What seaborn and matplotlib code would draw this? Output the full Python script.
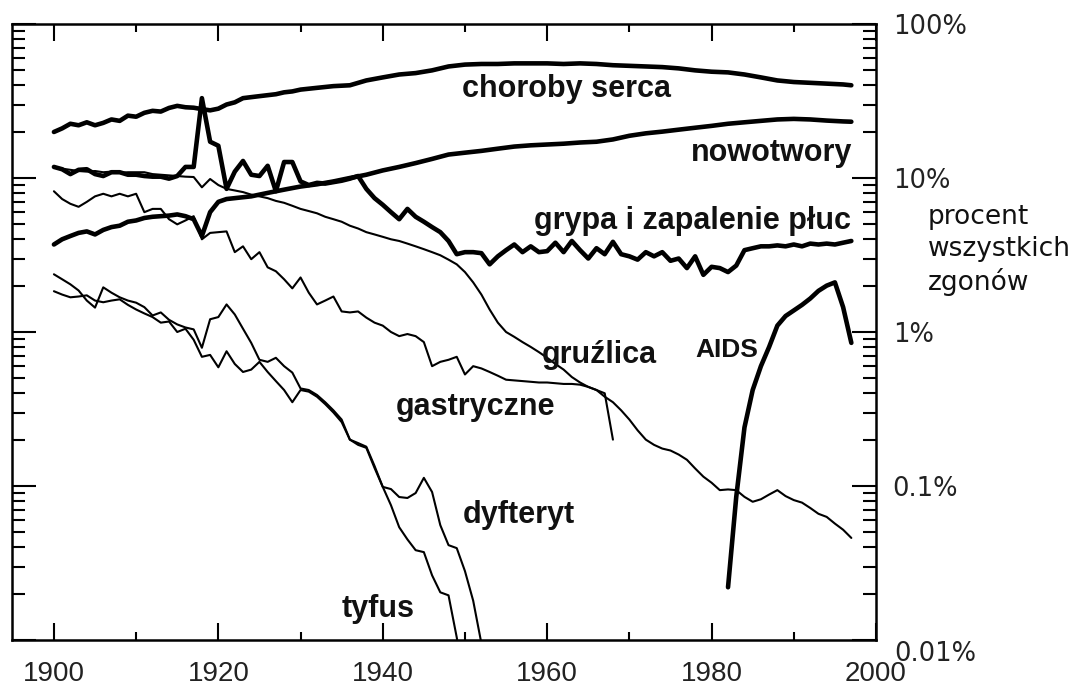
import numpy as np
import pandas as pd
import matplotlib
matplotlib.use("Agg")
import matplotlib.pyplot as plt
import matplotlib.ticker as mticker
from matplotlib.transforms import ScaledTranslation
import seaborn as sns

# udzial w ogolnej liczbie zgonow (%)
lata_serce = list(range(1900, 1930)) + list(range(1930, 1997, 2)) + [1997]
choroby_serca = [19.9, 21.0, 22.5, 22.0, 23.0, 22.0, 22.8, 24.0, 23.5, 25.4,
                 25.0, 26.5, 27.3, 27.0, 28.5, 29.4, 28.8, 28.6, 28.0, 27.5,
                 28.2, 30.0, 31.0, 33.0, 33.5, 34.0, 34.5, 35.0, 36.0, 36.5,
                 37.5, 38.5, 39.5, 40.0, 43.0, 45.0, 47.0, 48.0, 50.0, 53.0,
                 54.5, 55.0, 55.0, 55.5, 55.5, 55.5, 55.0, 55.5, 55.0, 54.0,
                 53.5, 53.0, 52.5, 51.5, 50.0, 49.0, 48.5, 47.0, 45.0, 43.0,
                 42.0, 41.5, 41.0, 40.5, 40.0]

lata_nowotwory = list(range(1900, 1930)) + list(range(1930, 1997, 2)) + [1997]
nowotwory = [3.7, 4.0, 4.2, 4.4, 4.5, 4.3, 4.6, 4.8, 4.9, 5.2,
             5.3, 5.5, 5.6, 5.65, 5.7, 5.8, 5.65, 5.4, 4.2, 6.0,
             7.0, 7.3, 7.4, 7.5, 7.6, 7.8, 8.0, 8.2, 8.4, 8.6,
             8.8, 9.1, 9.5, 10.0, 10.5, 11.2, 11.8, 12.5, 13.3, 14.2,
             14.6, 15.0, 15.5, 16.0, 16.3, 16.5, 16.7, 17.0, 17.2, 17.8,
             18.8, 19.5, 20.0, 20.6, 21.2, 21.8, 22.5, 23.0, 23.5, 24.0,
             24.2, 24.0, 23.6, 23.3, 23.2]

lata_grypa = list(range(1900, 1998))
grypa = [11.8, 11.4, 10.6, 11.3, 11.4, 10.6, 10.3, 10.9, 10.9, 10.5,
         10.5, 10.3, 10.2, 10.2, 9.9, 10.3, 11.8, 11.8, 33.0, 17.2,
         16.2, 8.5, 11.0, 12.9, 10.5, 10.3, 12.0, 8.2, 12.7, 12.7,
         9.5, 9.0, 9.3, 9.2, 9.4, 9.6, 9.9, 10.3, 8.5, 7.4,
         6.7, 6.0, 5.4, 6.3, 5.6, 5.2, 4.8, 4.45, 3.9, 3.2,
         3.3, 3.3, 3.25, 2.75, 3.1, 3.4, 3.7, 3.3, 3.6, 3.3,
         3.35, 3.8, 3.3, 3.9, 3.4, 3.0, 3.5, 3.2, 3.85, 3.2,
         3.1, 2.95, 3.3, 3.1, 3.3, 2.9, 3.0, 2.6, 3.1, 2.35,
         2.65, 2.6, 2.45, 2.7, 3.4, 3.5, 3.6, 3.6, 3.65, 3.6,
         3.7, 3.6, 3.75, 3.7, 3.75, 3.7, 3.8, 3.9]

lata_gruzlica = list(range(1900, 1998))
gruzlica = [11.8, 11.5, 11.3, 11.1, 11.0, 11.1, 10.9, 11.0, 10.8, 10.9,
            10.9, 10.9, 10.6, 10.5, 10.4, 10.3, 10.2, 10.15, 8.7, 9.85,
            9.0, 8.5, 8.3, 8.1, 7.8, 7.6, 7.4, 7.1, 6.9, 6.6,
            6.3, 6.1, 5.9, 5.6, 5.4, 5.2, 4.9, 4.7, 4.45, 4.3,
            4.15, 4.0, 3.9, 3.75, 3.6, 3.45, 3.3, 3.15, 2.95, 2.75,
            2.45, 2.1, 1.75, 1.4, 1.15, 1.0, 0.93, 0.86, 0.8, 0.74,
            0.68, 0.62, 0.57, 0.51, 0.47, 0.44, 0.42, 0.38, 0.35, 0.31,
            0.27, 0.23, 0.2, 0.185, 0.175, 0.17, 0.16, 0.148, 0.13, 0.115,
            0.105, 0.094, 0.095, 0.094, 0.085, 0.079, 0.082, 0.088, 0.094, 0.086,
            0.081, 0.078, 0.072, 0.066, 0.063, 0.057, 0.052, 0.046]

lata_gastryczne = list(range(1900, 1969))
gastryczne = [8.2, 7.3, 6.8, 6.5, 7.0, 7.6, 7.9, 7.6, 7.9, 7.6,
              7.9, 6.0, 6.3, 6.3, 5.4, 5.0, 5.3, 5.65, 4.0, 4.4,
              4.45, 4.5, 3.3, 3.6, 2.97, 3.3, 2.63, 2.48, 2.2, 1.92,
              2.26, 1.8, 1.51, 1.6, 1.7, 1.36, 1.34, 1.36, 1.24, 1.15,
              1.1, 1.0, 0.94, 0.97, 0.94, 0.86, 0.6, 0.64, 0.66, 0.69,
              0.53, 0.6, 0.58, 0.55, 0.52, 0.49, 0.485, 0.48, 0.475, 0.47,
              0.47, 0.465, 0.46, 0.46, 0.455, 0.44, 0.42, 0.40, 0.2]

lata_dyfteryt = list(range(1900, 1953))
dyfteryt = [2.37, 2.2, 2.04, 1.86, 1.6, 1.44, 1.95, 1.8, 1.68, 1.6,
            1.55, 1.45, 1.28, 1.34, 1.2, 1.12, 1.07, 1.04, 0.79, 1.21,
            1.25, 1.51, 1.3, 1.05, 0.85, 0.66, 0.64, 0.68, 0.6, 0.545,
            0.43, 0.42, 0.39, 0.35, 0.31, 0.27, 0.2, 0.19, 0.18, 0.135,
            0.0987, 0.0955, 0.0848, 0.0836, 0.09, 0.113, 0.0914, 0.0557, 0.0413, 0.0395,
            0.028, 0.018, 0.0095]

lata_tyfus = list(range(1900, 1951))
tyfus = [1.84, 1.75, 1.68, 1.7, 1.73, 1.6, 1.56, 1.6, 1.63, 1.5,
         1.4, 1.32, 1.25, 1.15, 1.17, 1.0, 1.05, 0.89, 0.69, 0.71,
         0.59, 0.75, 0.62, 0.55, 0.57, 0.64, 0.55, 0.48, 0.42, 0.35,
         0.42, 0.41, 0.38, 0.34, 0.3, 0.26, 0.2, 0.185, 0.177, 0.131,
         0.0987, 0.075, 0.054, 0.045, 0.0383, 0.0372, 0.0263, 0.0204, 0.0195, 0.0104,
         0.005]

lata_aids = list(range(1982, 1998))
aids = [0.022, 0.085, 0.24, 0.42, 0.6, 0.8, 1.1, 1.27, 1.38, 1.5,
        1.65, 1.85, 2.0, 2.1, 1.45, 0.85]

# (nazwa, lata, wartosci, gruba linia?)
serie = [
    ("choroby serca", lata_serce, choroby_serca, True),
    ("nowotwory", lata_nowotwory, nowotwory, True),
    ("grypa i zapalenie płuc", lata_grypa, grypa, True),
    ("gruźlica", lata_gruzlica, gruzlica, False),
    ("gastryczne", lata_gastryczne, gastryczne, False),
    ("dyfteryt", lata_dyfteryt, dyfteryt, False),
    ("tyfus", lata_tyfus, tyfus, False),
    ("AIDS", lata_aids, aids, True),
]

rows = []
for nazwa, lata, wart, gruba in serie:
    for r, v in zip(lata, wart):
        rows.append({"choroba": nazwa, "rok": r, "procent": v, "gruba": gruba})
df = pd.DataFrame(rows)

# etykiety linii (polozenie w jednostkach danych)
etykiety = [
    ("choroby serca", 1962.4, 33.7, "center", 22),
    ("nowotwory", 1997.1, 12.9, "right", 22),
    ("grypa i zapalenie płuc", 1997.0, 4.66, "right", 22),
    ("gruźlica", 1966.4, 0.633, "center", 22),
    ("gastryczne", 1951.3, 0.29, "center", 22),
    ("dyfteryt", 1956.6, 0.0574, "center", 22),
    ("tyfus", 1939.4, 0.014, "center", 22),
    ("AIDS", 1981.8, 0.69, "center", 19),
]

y_ticks = [0.01, 0.1, 1, 10, 100]
y_labels = ["0.01%", "0.1%", "1%", "10%", "100%"]
x_ticks = [1900, 1920, 1940, 1960, 1980, 2000]

sns.set_theme(style="white")
plt.rcParams['font.family'] = ['Liberation Sans', 'DejaVu Sans']

fig = plt.figure(figsize=(10.86, 6.86), dpi=100)
ax = fig.add_axes([12/1086, 46/686, 864/1086, 616/686])
ax.set_yscale('log')

for nazwa, lata, wart, gruba in serie:
    sub = df[df.choroba == nazwa]
    sns.lineplot(data=sub, x="rok", y="procent", ax=ax, color="black",
                 linewidth=3.3 if gruba else 1.5, solid_joinstyle="round",
                 estimator=None)

for tekst, x, y, ha, fs in etykiety:
    ax.text(x, y, tekst, ha=ha, va="baseline", fontsize=fs,
            fontweight="bold", color="#111111")

ax.set_xlim(1894.9, 2000)
ax.set_ylim(0.01, 100)
ax.set_xlabel("")
ax.set_ylabel("")

ax.set_xticks(x_ticks)
ax.xaxis.set_minor_locator(mticker.MultipleLocator(10))
ax.set_yticks(y_ticks, labels=y_labels)
ax.yaxis.set_minor_locator(mticker.LogLocator(base=10, subs=np.arange(2, 10), numticks=20))
ax.yaxis.set_minor_formatter(mticker.NullFormatter())

ax.tick_params(axis="both", which="both", direction="in", top=True, bottom=True,
               left=True, right=True, width=1.5, color="black")
ax.tick_params(axis="x", which="major", length=12.5, pad=15, labelsize=20,
               labelcolor="#222222")
ax.tick_params(axis="x", which="minor", length=6)
ax.tick_params(axis="y", which="major", length=17, pad=12, labelsize=18.5,
               labelleft=False, labelright=True, labelcolor="#222222")
ax.tick_params(axis="y", which="minor", length=9.5)

for lbl in ax.get_yticklabels():
    lbl.set_fontfamily("DejaVu Sans")

for s in ax.spines.values():
    s.set_color("black")
    s.set_linewidth(1.8)
    s.set_visible(True)

# etykieta 0.01% lezy nieco ponizej osi w oryginale
t0 = ax.yaxis.get_major_ticks()[0].label2
t0.set_transform(t0.get_transform() + ScaledTranslation(0.02, -0.11, fig.dpi_scale_trans))

fig.text(928/1086, 1 - 250/686, "procent\nwszystkich\nzgonów", ha="left", va="center",
         fontsize=19, family="DejaVu Sans", linespacing=1.3, color="#111111")

fig.savefig("out.png", dpi=100)
